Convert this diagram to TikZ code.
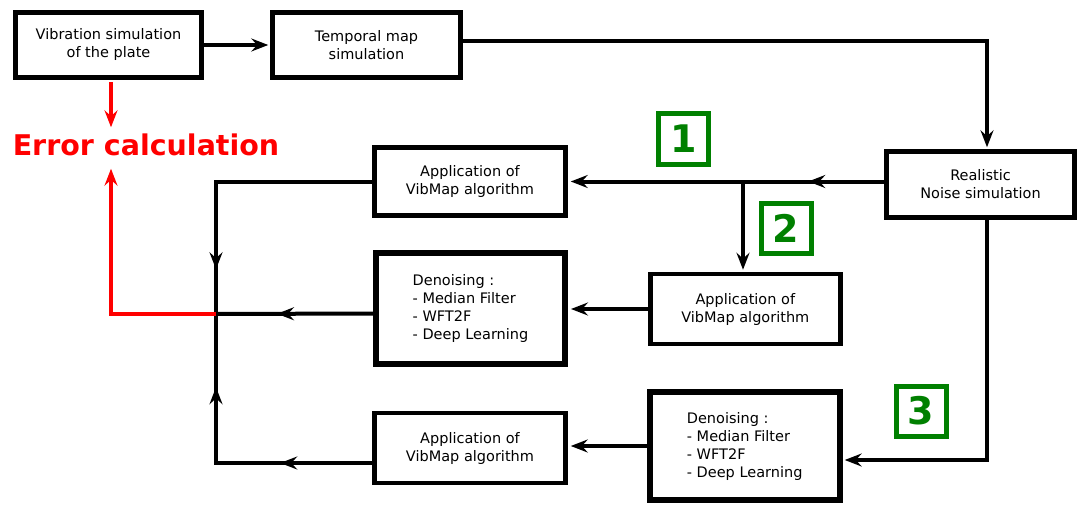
\documentclass[tikz,border=0pt]{standalone}
\usepackage{fontspec}
\setmainfont{DejaVu Sans}
\usetikzlibrary{arrows.meta,decorations.markings}

\begin{document}
\begin{tikzpicture}[x=1pt,y=-1pt,
  >={Stealth[length=17pt,width=13pt,inset=6pt]},
  box/.style={draw=black,line width=4.5pt,fill=white,align=center,inner sep=0pt,font=\fontsize{14.5}{18}\selectfont},
  thickbox/.style={box,line width=6pt,align=left},
  wire/.style={draw=black,line width=4pt},
  errwire/.style={draw=errorcolor,line width=4pt},
  midarrow/.style={postaction={decorate,decoration={markings,mark=at position #1 with {\arrow{>}}}}},
  stagebox/.style={draw=stagecolor,line width=5pt,text=stagecolor,minimum size=50pt,inner sep=0pt,font=\fontsize{38}{38}\bfseries\selectfont}]
\definecolor{errorcolor}{RGB}{255,0,0} % Definition of the error color
\definecolor{stagecolor}{RGB}{0,128,0} % Definition of the stage color
\useasboundingbox (0,0) rectangle (1083,508); % Size of the picture

% boxes
\node[box,minimum width=186pt,minimum height=65pt] (plate) at (108.5,45) {Vibration simulation\\of the plate};
\node[box,minimum width=188pt,minimum height=65pt] (tmap) at (366.5,45) {Temporal map\\simulation};
\node[box,minimum width=188pt,minimum height=66pt] (noise) at (980.5,184.5) {Realistic\\Noise simulation};
\node[box,minimum width=191pt,minimum height=68pt] (vib1) at (470,181.5) {Application of\\VibMap algorithm};
\node[thickbox,minimum width=189pt,minimum height=111pt] (den2) at (470.5,308.5) {Denoising :\\- Median Filter\\- WFT2F\\- Deep Learning};
\node[box,minimum width=190pt,minimum height=70pt] (vib2) at (745.3,309) {Application of\\VibMap algorithm};
\node[thickbox,minimum width=190pt,minimum height=108pt] (den3) at (744.7,446) {Denoising :\\- Median Filter\\- WFT2F\\- Deep Learning};
\node[box,minimum width=191pt,minimum height=70pt] (vib3) at (470,448) {Application of\\VibMap algorithm};

% error text and stage numbers
\node[text=errorcolor,inner sep=0pt,font=\fontsize{28.5}{28.5}\bfseries\selectfont] (err) at (146,145) {Error calculation};
\node[stagebox] (n1) at (683.5,139) {1};
\node[stagebox] (n2) at (786,228) {2};
\node[stagebox] (n3) at (921,411) {3};

\coordinate (split) at (743,181.5); % Branch towards path 2
\coordinate (junc) at (216,314); % Meeting point of the three paths

% connectors
\draw[wire,->,shorten >=2pt] (plate) -- (tmap);
\draw[wire,->,shorten >=2pt] ([yshift=4pt]tmap.east) -| ([xshift=6.5pt]noise.north);
\draw[wire,->,shorten >=3pt,midarrow=76pt] (noise.west |- split) -- (vib1.east |- split);
\draw[wire,->,shorten >=2pt] (split) -- (split |- vib2.north);
\draw[wire,->,shorten >=2pt] ([xshift=6.5pt]noise.south) |- ([yshift=-14pt]den3.east);
\draw[wire,->,shorten >=3pt] (vib2.west) -- (vib2.west -| den2.east);
\draw[wire,->,shorten >=3pt] (den3.west) -- (den3.west -| vib3.east);
\draw[wire,midarrow=244pt] (vib1.west) -| (junc);
\draw[wire,midarrow=96pt] ([yshift=-5pt]den2.west) -- (junc);
\draw[wire,midarrow=92pt,midarrow=232pt] ([yshift=-15pt]vib3.west) -| (junc);
\draw[errwire,->] ([xshift=2.5pt,yshift=-2.5pt]plate.south) -- ([xshift=-35pt,yshift=6.5pt]err.north);
\draw[errwire,->] (junc) -| ([xshift=-35pt,yshift=-12.5pt]err.south);

\end{tikzpicture}
\end{document}
